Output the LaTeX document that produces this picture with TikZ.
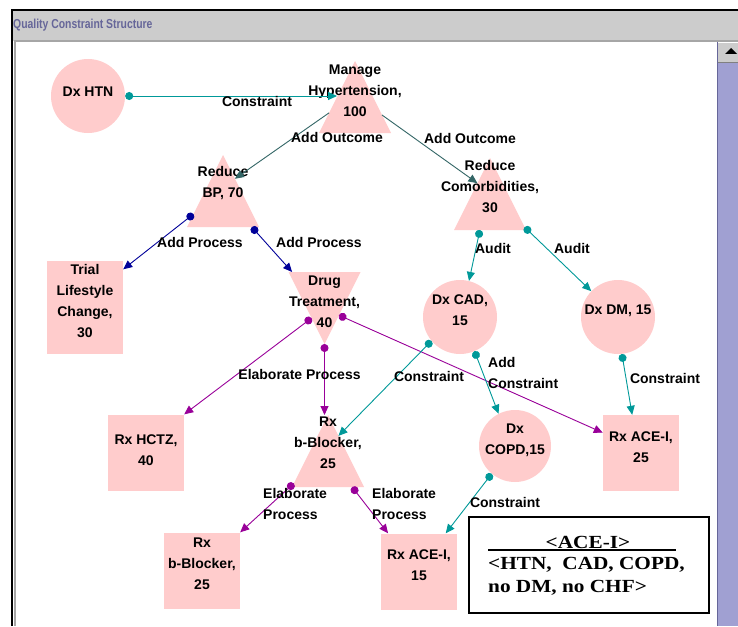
\documentclass[tikz,border=0pt]{standalone}
\usepackage{fontspec}
\setmainfont{Liberation Sans}
\newfontfamily\titlefont[FakeStretch=0.8]{Liberation Sans}
\newfontfamily\legendfont[FakeStretch=1.15]{Liberation Serif}
\usetikzlibrary{arrows.meta,shapes.geometric,calc}
\definecolor{nodepink}{RGB}{255,204,204}
\definecolor{consteal}{RGB}{0,153,153}
\definecolor{outcomegreen}{RGB}{51,102,102}
\definecolor{procblue}{RGB}{0,0,153}
\definecolor{elabpurple}{RGB}{153,0,153}
\definecolor{titleblue}{RGB}{102,102,153}
\definecolor{bargray}{RGB}{204,204,204}
\definecolor{tracklilac}{RGB}{160,160,210}
\tikzset{
  txt/.style={font=\fontsize{14}{21}\selectfont\bfseries, align=center, inner sep=0pt},
  legtxt/.style={font=\legendfont\bfseries\fontsize{18.5}{23}\selectfont, inner sep=0pt},
  dxcirc/.style={circle, fill=nodepink, minimum size=74pt, inner sep=0pt},
  rxbox/.style={rectangle, fill=nodepink, minimum width=76pt, minimum height=76pt, inner sep=0pt},
  goaltri/.style={isosceles triangle, isosceles triangle stretches, shape border rotate=90,
    fill=nodepink, minimum width=72pt, minimum height=72pt, inner sep=0pt, outer sep=0pt},
  link/.style={line width=0.9pt, {Circle[length=8pt]}-{Triangle[length=9pt,width=8pt]}},
  constraint/.style={link, consteal},
  outcome/.style={line width=0.9pt, outcomegreen, -{Triangle[length=9pt,width=8pt]}},
  addproc/.style={link, procblue},
  elab/.style={link, elabpurple}
}
\begin{document}
\begin{tikzpicture}[x=1pt, y=-1pt]
	\useasboundingbox (0,0) rectangle (738,626);
	\fill[white] (0,0) rectangle (738,626);
	\fill[bargray] (12,10) rectangle (738,41);
	\fill[gray!70] (14,40) rectangle (738,42);
	\fill[gray!70] (14,40) rectangle (16,626);
	\draw[line width=2.5pt] (12,626) -- (12,10) -- (738,10);
	\node[anchor=west, inner sep=0pt, text=titleblue, font=\titlefont\bfseries\fontsize{13}{15}\selectfont] (title) at (13,25) {Quality Constraint Structure};
	\fill[tracklilac] (717,62) rectangle (738,626);
	\draw[titleblue] (717.5,42) -- (717.5,626);
	\fill[bargray] (718,43) rectangle (738,62);
	\draw[gray] (718,62) -- (738,62);
	\fill (725,54) -- (731,48) -- (737,54) -- cycle;

	\node[dxcirc, label={[txt, yshift=4pt]center:Dx HTN}] (htn) at (88,96) {};
	\node[dxcirc, label={[txt, yshift=7pt]center:Dx CAD,\\15}] (cad) at (460,317) {};
	\node[dxcirc, label={[txt, yshift=6pt]center:Dx DM, 15}] (dm) at (618,317) {};
	\node[dxcirc, minimum size=72pt, label={[txt, yshift=6pt]center:Dx\\COPD,15}] (copd) at (515,446) {};

	\node[rxbox, minimum height=93pt, label={[txt, yshift=6.5pt]center:Trial\\Lifestyle\\Change,\\30}] (tlc) at (85,307.5) {};
	\node[rxbox, label={[txt, yshift=2pt]center:Rx HCTZ,\\40}] (hctz) at (146,452.5) {};
	\node[rxbox, label={[txt, yshift=5.5pt]center:Rx ACE-I,\\25}] (ace25) at (641,453) {};
	\node[rxbox, label={[txt, yshift=7pt]center:Rx\\b-Blocker,\\25}] (bbsq) at (202,570.5) {};
	\node[rxbox, label={[txt, yshift=6pt]center:Rx ACE-I,\\15}] (ace15) at (419,571.5) {};

	\node[goaltri, anchor=lower side] (mh) at (355,133) {};
	\node[goaltri, anchor=lower side] (rbp) at (223,227) {};
	\node[goaltri, anchor=lower side] (rc) at (490,230) {};
	\node[goaltri, anchor=lower side, shape border rotate=270] (dt) at (324.5,272) {};
	\node[goaltri, anchor=lower side] (rbt) at (328,487) {};
	\node[txt] (mh-txt) at (355,90.5) {Manage\\Hypertension,\\100};
	\node[txt] (rbp-txt) at (223,183.5) {Reduce\\BP, 70};
	\node[txt] (rc-txt) at (490,187) {Reduce\\Comorbidities,\\30};
	\node[txt] (dt-txt) at (324.5,302) {Drug\\Treatment,\\40};
	\node[txt] (rbt-txt) at (328,443) {Rx\\b-Blocker,\\25};

	\draw[constraint] (htn.east) -- (htn.east -| mh.left side);
	\draw[outcome] ($(mh.apex)!0.72!(mh.left corner)$) -- ($(rbp.apex)!0.33!(rbp.right corner)$);
	\draw[outcome] ($(mh.apex)!0.75!(mh.right corner)$) -- ($(rc.apex)!0.35!(rc.left corner)$);
	\draw[addproc] ($(rbp.apex)!0.82!(rbp.left corner)$) -- (tlc.45);
	\draw[addproc] ($(rbp.lower side)!0.8!(rbp.right corner)$) -- ($(dt.lower side)!0.9!(dt.right corner)$);
	\draw[constraint] ($(rc.lower side)!0.28!(rc.left corner)$) -- (cad.76);
	\draw[constraint] ($(rc.apex)!0.96!(rc.right corner)$) -- (dm.136);
	\draw[elab] ($(dt.apex)!0.36!(dt.right corner)$) -- (hctz.north east);
	\draw[elab] (dt.apex) -- (dt.apex |- rbt.apex);
	\draw[elab] ($(dt.apex)!0.4!(dt.left corner)$) -- (ace25.152);
	\draw[constraint] (cad.220) -- ($(rbt.apex)!0.29!(rbt.right corner)$);
	\draw[constraint] (cad.-67) -- (copd.117);
	\draw[constraint] (dm.-84) -- (ace25.103);
	\draw[constraint] (copd.-130) -- (ace15.55);
	\draw[elab] ($(rbt.apex)!0.95!(rbt.left corner)$) -- (bbsq.north east);
	\draw[elab] ($(rbt.lower side)!0.67!(rbt.right corner)$) -- (ace15.129);

	\node[txt] (l-htn) at (257,101) {Constraint};
	\node[txt] (l-out1) at (337,137) {Add Outcome};
	\node[txt] (l-out2) at (470,138) {Add Outcome};
	\node[txt] (l-proc1) at (200,242) {Add Process};
	\node[txt] (l-proc2) at (319,242) {Add Process};
	\node[txt] (l-aud1) at (493,248) {Audit};
	\node[txt] (l-aud2) at (572,248) {Audit};
	\node[txt] (l-elab) at (299.5,374) {Elaborate Process};
	\node[txt] (l-cad) at (429,376) {Constraint};
	\node[txt, align=left, anchor=west] (l-add) at (488,373) {Add\\Constraint};
	\node[txt] (l-dm) at (665,378) {Constraint};
	\node[txt] (l-copd) at (505,502) {Constraint};
	\node[txt, align=left, anchor=west] (l-elab1) at (263,503.5) {Elaborate\\Process};
	\node[txt, align=left, anchor=west] (l-elab2) at (372,503.5) {Elaborate\\Process};

	\node[draw, line width=2pt, fill=white, minimum width=240pt, minimum height=96pt, anchor=north west] (legend) at (468,516) {};
	\node[legtxt] (leg-head) at (588,542) {<ACE-I>};
	\draw[line width=2pt] (488,550) -- (676,550);
	\node[legtxt, align=left, anchor=west] (leg-body) at (488,576.5) {<HTN,\ \ CAD, COPD,\\no DM, no CHF>};
\end{tikzpicture}
\end{document}
